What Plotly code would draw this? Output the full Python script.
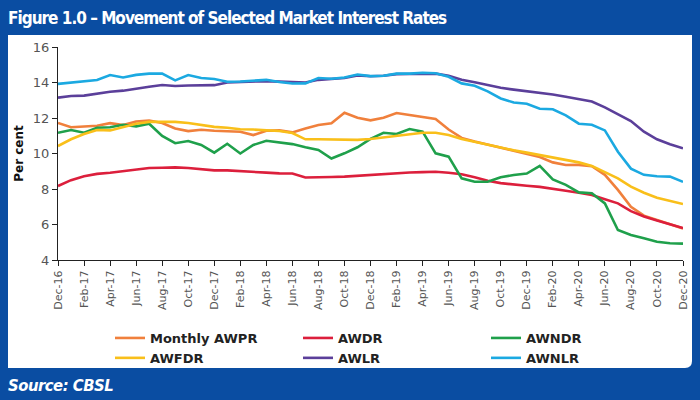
import plotly.graph_objects as go

# ---------------- data ----------------
months = ["Dec-16", "Jan-17", "Feb-17", "Mar-17", "Apr-17", "May-17", "Jun-17", "Jul-17", "Aug-17",
          "Sep-17", "Oct-17", "Nov-17", "Dec-17", "Jan-18", "Feb-18", "Mar-18", "Apr-18", "May-18",
          "Jun-18", "Jul-18", "Aug-18", "Sep-18", "Oct-18", "Nov-18", "Dec-18", "Jan-19", "Feb-19",
          "Mar-19", "Apr-19", "May-19", "Jun-19", "Jul-19", "Aug-19", "Sep-19", "Oct-19", "Nov-19",
          "Dec-19", "Jan-20", "Feb-20", "Mar-20", "Apr-20", "May-20", "Jun-20", "Jul-20", "Aug-20",
          "Sep-20", "Oct-20", "Nov-20", "Dec-20"]
tick_labels = months[::2]

awpr = [11.72, 11.48, 11.52, 11.56, 11.71, 11.60, 11.80, 11.86, 11.72, 11.41, 11.26, 11.34, 11.28,
        11.27, 11.23, 11.04, 11.28, 11.30, 11.19, 11.41, 11.61, 11.70, 12.30, 12.02, 11.87, 12.02,
        12.28, 12.17, 12.04, 11.94, 11.35, 10.88, 10.68, 10.50, 10.32, 10.12, 9.95, 9.80, 9.50,
        9.35, 9.36, 9.28, 8.80, 7.95, 7.00, 6.50, 6.25, 6.00, 5.78]
awdr = [8.17, 8.50, 8.72, 8.85, 8.92, 9.01, 9.13, 9.18, 9.20, 9.22, 9.18, 9.13, 9.05,
        9.05, 9.02, 8.97, 8.92, 8.88, 8.87, 8.65, 8.65, 8.68, 8.70, 8.75, 8.77, 8.82,
        8.87, 8.93, 8.95, 8.97, 8.92, 8.83, 8.66, 8.47, 8.33, 8.24, 8.18, 8.12, 8.03,
        7.90, 7.79, 7.66, 7.42, 7.19, 6.75, 6.45, 6.22, 6.03, 5.80]
awndr = [11.17, 11.32, 11.17, 11.45, 11.48, 11.62, 11.53, 11.68, 10.99, 10.58, 10.70, 10.48, 10.05,
         10.55, 10.00, 10.48, 10.72, 10.63, 10.53, 10.35, 10.20, 9.72, 10.01, 10.35, 10.82, 11.17,
         11.10, 11.38, 11.23, 10.01, 9.82, 8.60, 8.41, 8.41, 8.66, 8.79, 8.87, 9.30, 8.54,
         8.23, 7.81, 7.76, 7.19, 5.69, 5.41, 5.22, 5.03, 4.94, 4.92]
awfdr = [10.42, 10.80, 11.10, 11.32, 11.30, 11.50, 11.68, 11.78, 11.80, 11.78, 11.72, 11.62, 11.50,
         11.45, 11.37, 11.35, 11.32, 11.27, 11.15, 10.80, 10.80, 10.80, 10.77, 10.77, 10.82, 10.91,
         10.99, 11.10, 11.17, 11.17, 11.04, 10.82, 10.66, 10.48, 10.35, 10.18, 10.05, 9.92, 9.78,
         9.63, 9.50, 9.30, 8.97, 8.60, 8.13, 7.79, 7.51, 7.32, 7.15]
awlr = [13.15, 13.24, 13.26, 13.39, 13.48, 13.54, 13.67, 13.76, 13.86, 13.80, 13.83, 13.83, 13.85,
        14.00, 14.02, 14.05, 14.08, 14.05, 14.02, 14.00, 14.15, 14.18, 14.25, 14.40, 14.35, 14.38,
        14.47, 14.48, 14.50, 14.50, 14.38, 14.16, 14.02, 13.87, 13.70, 13.60, 13.52, 13.42, 13.32,
        13.20, 13.07, 12.93, 12.60, 12.22, 11.83, 11.23, 10.80, 10.52, 10.29]
awnlr = [13.92, 14.00, 14.07, 14.14, 14.42, 14.28, 14.43, 14.50, 14.50, 14.12, 14.42, 14.25, 14.20,
         14.04, 14.06, 14.12, 14.15, 14.03, 13.94, 13.95, 14.25, 14.21, 14.28, 14.45, 14.36, 14.38,
         14.50, 14.50, 14.55, 14.52, 14.32, 13.95, 13.82, 13.50, 13.10, 12.87, 12.80, 12.52, 12.49,
         12.15, 11.68, 11.62, 11.30, 10.10, 9.15, 8.80, 8.72, 8.70, 8.40]

series = [
    ("Monthly AWPR", awpr, "#F0803C"),
    ("AWDR", awdr, "#DC1F3C"),
    ("AWNDR", awndr, "#1FA04B"),
    ("AWFDR", awfdr, "#F9BF1A"),
    ("AWLR", awlr, "#5B3F9A"),
    ("AWNLR", awnlr, "#1BA9E1"),
]

# ---------------- layout geometry (pixels) ----------------
W, H = 700, 400
L, R, T, B = 58, 17, 47, 140
PW, PH = W - L - R, H - T - B
BLUE = "#0A4DA2"
HEAD_FONT = "DejaVu Sans Condensed, Liberation Sans Narrow, DejaVu Sans, sans-serif"


def px(x):
    return (x - L) / PW


def py(y):
    return (H - B - y) / PH


fig = go.Figure()
for name, vals, col in series:
    fig.add_trace(go.Scatter(x=months, y=vals, name=name, mode="lines",
                             line=dict(color=col, width=2.6)))

# white rounded panel
x0, x1, y0, y1, r = 8, 692, 35, 368, 7
path = (f"M {px(x0)},{py(y0)} L {px(x1)},{py(y0)} L {px(x1)},{py(y1 - r)} "
        f"Q {px(x1)},{py(y1)} {px(x1 - r)},{py(y1)} L {px(x0)},{py(y1)} Z")
fig.add_shape(type="path", path=path, xref="paper", yref="paper",
              fillcolor="white", line=dict(width=0), layer="below")

fig.add_annotation(text='<span style="letter-spacing:-1px">Figure 1.0 – Movement of Selected Market Interest Rates</span>',
                   xref="paper", yref="paper", x=px(7), y=py(18), xanchor="left", yanchor="middle",
                   showarrow=False, borderpad=0,
                   font=dict(family=HEAD_FONT, size=17, color="white", weight="bold"))
fig.add_annotation(text='<i><span style="letter-spacing:-0.5px">Source: CBSL</span></i>',
                   xref="paper", yref="paper", x=px(7), y=py(385), xanchor="left", yanchor="middle",
                   showarrow=False, borderpad=0,
                   font=dict(family=HEAD_FONT, size=16.5, color="white", weight="bold"))

fig.update_layout(
    width=W, height=H,
    margin=dict(l=L, r=R, t=T, b=B, autoexpand=False),
    paper_bgcolor=BLUE,
    plot_bgcolor="rgba(0,0,0,0)",
    font=dict(family="DejaVu Sans, sans-serif", color="#444"),
    showlegend=True,
    legend=dict(orientation="h", xref="container", yref="container",
                x=110 / W, y=1 - 323 / H, xanchor="left", yanchor="top",
                entrywidth=143, entrywidthmode="pixels", tracegroupgap=0,
                bgcolor="rgba(0,0,0,0)",
                font=dict(family="DejaVu Sans, sans-serif", size=13, color="#222", weight="bold")),
    xaxis=dict(type="category", range=[0, len(months) - 1], automargin=False,
               tickmode="array", tickvals=tick_labels, ticktext=tick_labels,
               tickangle=-90, ticks="outside", ticklen=5, tickcolor="#222",
               showline=True, linecolor="#222", linewidth=1.2, showgrid=False, zeroline=False,
               tickfont=dict(size=11, color="#555")),
    yaxis=dict(range=[4, 16], dtick=2, ticks="outside", ticklen=5, tickcolor="#222", automargin=False,
               showline=True, linecolor="#222", linewidth=1.2, showgrid=False, zeroline=False,
               tickfont=dict(size=13, color="#555"),
               title=dict(text="<b>Per cent</b>", standoff=6,
                          font=dict(size=12, color="#111"))),
)

fig.write_html("out.html", config={"displayModeBar": False},
               post_script="document.body.style.margin='0';")
